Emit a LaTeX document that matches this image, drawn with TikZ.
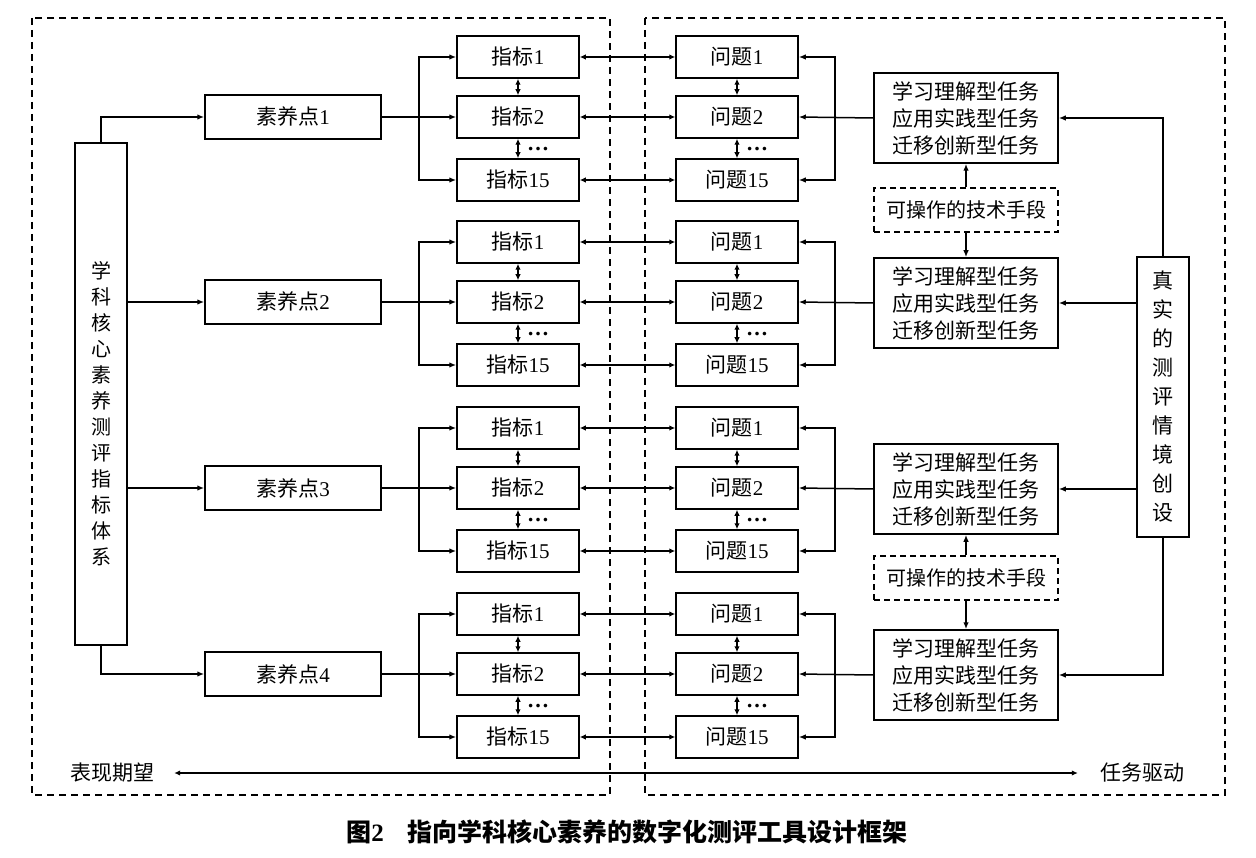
\documentclass[tikz,border=0pt]{standalone}
\usepackage{fontspec}
\setmainfont{Liberation Serif}
\newfontfamily\cjk{Noto Sans CJK SC}
\usetikzlibrary{arrows.meta}
\begin{document}
\begin{tikzpicture}[x=1pt,y=-1pt,
  lw/.style={line width=1.5pt},
  box/.style={draw, lw, inner sep=0pt, minimum width=122, minimum height=42, font=\fontsize{21}{24}\selectfont},
  spbox/.style={box, minimum width=176, minimum height=44},
  taskbox/.style={draw, lw, inner sep=0pt, minimum width=184, minimum height=90, align=center, font=\fontsize{21}{27}\selectfont\cjk},
  techbox/.style={draw, lw, dash pattern=on 6pt off 4pt, inner sep=0pt, minimum width=184, minimum height=44, font=\fontsize{20}{24}\selectfont\cjk},
  arr/.style={lw, -{Latex[length=7pt,width=5.5pt]}},
  darr/.style={lw, {Latex[length=6pt,width=5.5pt]}-{Latex[length=6pt,width=5.5pt]}},
  frame/.style={line width=1.3pt, dash pattern=on 7pt off 5pt},
  dots/.style={inner sep=0pt, font=\fontsize{22}{22}\selectfont\bfseries}
]
\useasboundingbox (0,0) rectangle (1256,858);

% outer dashed frames
\draw[frame] (32,18) rectangle (610,795);
\draw[frame] (645,18) rectangle (1225,795);

% left system box
\node[draw, lw, minimum width=52, minimum height=502, inner sep=0pt] (sys) at (101,394) {};
\node[align=center, inner sep=0pt, font=\fontsize{20}{26}\selectfont\cjk] (systxt) at (101,414)
  {学\\科\\核\\心\\素\\养\\测\\评\\指\\标\\体\\系};

% right context box
\node[draw, lw, minimum width=52, minimum height=280, inner sep=0pt, align=center,
  font=\fontsize{21}{29}\selectfont\cjk] (real) at (1163,397)
  {真\\实\\的\\测\\评\\情\\境\\创\\设};

% groups
\foreach \g/\m in {1/117, 2/302, 3/488, 4/674}{
  \node[spbox] (s\g) at (293,\m) {{\cjk 素养点}\g};
  \node[box] (zb-\g-1) at (518,\m-60) {{\cjk 指标}1};
  \node[box] (zb-\g-2) at (518,\m) {{\cjk 指标}2};
  \node[box] (zb-\g-3) at (518,\m+63) {{\cjk 指标}15};
  \node[box] (wt-\g-1) at (737,\m-60) {{\cjk 问题}1};
  \node[box] (wt-\g-2) at (737,\m) {{\cjk 问题}2};
  \node[box] (wt-\g-3) at (737,\m+63) {{\cjk 问题}15};
  \node[dots] (dz\g) at (538,\m+32) {…};
  \node[dots] (dw\g) at (757,\m+32) {…};
  \coordinate (j\g) at (419,\m);
  \coordinate (k\g) at (835,\m);
  \draw[arr] (s\g.east) -- (zb-\g-2.west);
  \draw[arr] (j\g) |- (zb-\g-1.west);
  \draw[arr] (j\g) |- (zb-\g-3.west);
  \draw[darr] (zb-\g-1.south) -- (zb-\g-2.north);
  \draw[darr] (zb-\g-2.south) -- (zb-\g-3.north);
  \draw[darr] (wt-\g-1.south) -- (wt-\g-2.north);
  \draw[darr] (wt-\g-2.south) -- (wt-\g-3.north);
  \draw[darr] (zb-\g-1.east) -- (wt-\g-1.west);
  \draw[darr] (zb-\g-2.east) -- (wt-\g-2.west);
  \draw[darr] (zb-\g-3.east) -- (wt-\g-3.west);
  \draw[arr] (k\g) |- (wt-\g-1.east);
  \draw[arr] (k\g) |- (wt-\g-3.east);
  \node[taskbox] (t\g) at (966,\m+1) {学习理解型任务\\应用实践型任务\\迁移创新型任务};
  \draw[arr] (t\g.west) -- (wt-\g-2.east);
}

% technique boxes
\node[techbox] (d1) at (966,210) {可操作的技术手段};
\node[techbox] (d2) at (966,578) {可操作的技术手段};
\draw[arr] (d1.north) -- (t1.south);
\draw[arr] (d1.south) -- (t2.north);
\draw[arr] (d2.north) -- (t3.south);
\draw[arr] (d2.south) -- (t4.north);

% system to literacy points
\draw[arr] (sys.north) |- (s1.west);
\draw[arr] (sys.east |- s2.west) -- (s2.west);
\draw[arr] (sys.east |- s3.west) -- (s3.west);
\draw[arr] (sys.south) |- (s4.west);

% context to tasks
\draw[arr] (real.north) |- (t1.east);
\draw[arr] (real.west |- t2.east) -- (t2.east);
\draw[arr] (real.west |- t3.east) -- (t3.east);
\draw[arr] (real.south) |- (t4.east);

% bottom axis
\node[inner sep=0pt, font=\fontsize{21}{24}\selectfont\cjk] (expect) at (112,773) {表现期望};
\node[inner sep=0pt, font=\fontsize{21}{24}\selectfont\cjk] (drive) at (1142,773) {任务驱动};
\draw[darr] ([xshift=20pt]expect.east) -- ([xshift=-22pt]drive.west);

% caption
\node[inner sep=0pt, font=\fontsize{25}{28}\selectfont\bfseries] (cap) at (627,832)
  {{\cjk 图}2\hspace{24pt}{\cjk 指向学科核心素养的数字化测评工具设计框架}};
\end{tikzpicture}
\end{document}
